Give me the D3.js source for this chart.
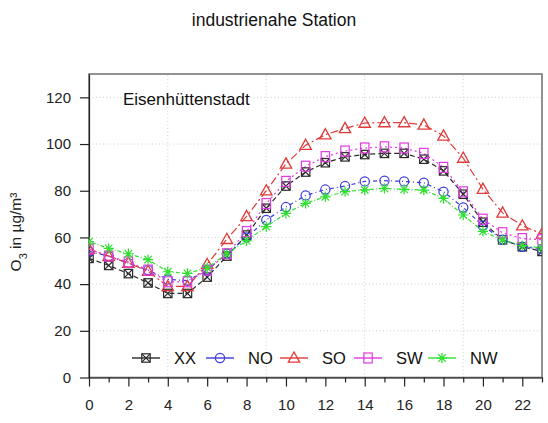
<!DOCTYPE html>
<html>
<head>
<meta charset="utf-8">
<script src="https://cdn.jsdelivr.net/npm/d3@7"></script>
<style>
  html, body { margin: 0; padding: 0; background: #fff; }
  svg { display: block; font-family: "Liberation Sans", Arial, sans-serif; }
</style>
</head>
<body>
<svg id="chart" width="548" height="423"></svg>
<script>
// Mean diurnal ozone course by wind sector, Eisenhüttenstadt
const hours = d3.range(0, 24);
const xx = [51, 48, 44.5, 40.5, 36, 36, 43, 52, 61, 72.5, 82, 88, 92, 94.5, 95.5, 96, 96, 93.5, 88.5, 78.5, 66.5, 59, 56, 54];
const no = [54, 52, 49, 46, 42, 41.5, 46, 53, 60, 67.5, 73, 78, 80.5, 82, 84, 84.3, 84, 83.4, 79.6, 72.8, 65, 59, 56, 55];
const so = [55, 52, 49, 45.5, 39, 39, 48.5, 59.2, 69, 80, 91.5, 99.5, 104, 106.7, 109, 109.2, 109.2, 108.2, 103.5, 94, 80.7, 70.5, 65, 61.5];
const sw = [55, 52, 49.5, 46, 41, 41, 46, 53, 62.5, 74.5, 84, 90.5, 94.6, 97, 98.3, 98.8, 98.3, 96, 90, 79.5, 67.8, 62, 59.5, 59];
const nw = [58.2, 55.3, 53, 50.5, 45.3, 44.6, 47, 53, 58.6, 64.6, 70.3, 74.6, 77.4, 79.6, 80.4, 81, 80.6, 80.3, 76.7, 69.6, 62.6, 58.9, 56.5, 55.5];

const seriesNames = ["XX", "NO", "SO", "SW", "NW"];
const seriesValues = [xx, no, so, sw, nw];
const seriesColors = ["#2a2a2a", "#3a3ae0", "#e03a3a", "#e23ae2", "#30e030"];
const seriesDash = ["5,3", "4,3,1,3", "8,3,2,3", "2,3", "1,2,4,2"];
const seriesSymbol = ["boxx", "circle", "triangle", "square", "star"];

const yTicks = [0, 20, 40, 60, 80, 100, 120];
const xLabelTicks = d3.range(0, 24, 2);
const xGrid = [4, 9, 14, 19];

const svg = d3.select("#chart");
const W = 548, H = 423;
const m = { left: 89, right: 6, top: 74, bottom: 45.5 };

const x = d3.scaleLinear().domain([0, 23]).range([m.left, W - m.right]);
const y = d3.scaleLinear().domain([0, 130]).range([H - m.bottom, m.top]);

// Title
svg.append("text")
  .attr("x", 274).attr("y", 26)
  .attr("text-anchor", "middle")
  .attr("font-size", 17.5)
  .attr("fill", "#111")
  .text("industrienahe Station");

// Clip region for marks
svg.append("defs").append("clipPath").attr("id", "plotclip")
  .append("rect")
  .attr("x", x(0)).attr("y", y(130))
  .attr("width", x(23) - x(0)).attr("height", y(0) - y(130));

// Grid
const grid = svg.append("g").attr("stroke", "#cfcfcf").attr("stroke-width", 1).attr("stroke-dasharray", "1,2.5");
grid.selectAll("line.h").data(yTicks.filter(d => d > 0)).join("line")
  .attr("x1", x(0)).attr("x2", x(23))
  .attr("y1", d => y(d)).attr("y2", d => y(d));
grid.selectAll("line.v").data(xGrid).join("line")
  .attr("class", "v")
  .attr("x1", d => x(d)).attr("x2", d => x(d))
  .attr("y1", y(0)).attr("y2", y(130));

// Frame
svg.append("rect")
  .attr("x", x(0)).attr("y", y(130))
  .attr("width", x(23) - x(0)).attr("height", y(0) - y(130))
  .attr("fill", "none").attr("stroke", "#777").attr("stroke-width", 1.6);

// Y axis
const yAxis = svg.append("g")
  .attr("transform", `translate(${x(0)},0)`)
  .call(d3.axisLeft(y).tickValues(yTicks).tickSize(9).tickPadding(9).tickSizeOuter(0));
yAxis.select(".domain").attr("stroke", "#222").attr("stroke-width", 1.2);
yAxis.selectAll(".tick line").attr("stroke", "#222").attr("stroke-width", 1.2);
yAxis.selectAll(".tick text").attr("font-size", 15).attr("fill", "#222")
  .attr("font-family", "Liberation Sans, Arial, sans-serif");

// X axis: long ticks with labels on even hours, short ticks on odd hours
const xAxis = svg.append("g")
  .attr("transform", `translate(0,${y(0)})`)
  .call(d3.axisBottom(x).tickValues(xLabelTicks).tickSize(9).tickPadding(13).tickSizeOuter(0));
xAxis.select(".domain").attr("stroke", "#222").attr("stroke-width", 1.2);
xAxis.selectAll(".tick line").attr("stroke", "#222").attr("stroke-width", 1.2);
xAxis.selectAll(".tick text").attr("font-size", 15).attr("fill", "#222")
  .attr("font-family", "Liberation Sans, Arial, sans-serif");
const xMinor = svg.append("g")
  .attr("transform", `translate(0,${y(0)})`)
  .call(d3.axisBottom(x).tickValues(d3.range(1, 24, 2)).tickSize(5).tickFormat("").tickSizeOuter(0));
xMinor.select(".domain").remove();
xMinor.selectAll(".tick line").attr("stroke", "#222").attr("stroke-width", 1.2);

// Y axis title
svg.append("text")
  .attr("transform", `translate(21,232) rotate(-90)`)
  .attr("text-anchor", "middle")
  .attr("font-size", 15.5)
  .attr("fill", "#222")
  .html('O<tspan baseline-shift="sub" font-size="11">3</tspan> in µg/m³');

// Station label
svg.append("text")
  .attr("x", 123).attr("y", 105)
  .attr("font-size", 17)
  .attr("fill", "#111")
  .text("Eisenhüttenstadt");

// Marker drawing
function drawSymbol(g, type, color) {
  const s = 4.2;
  if (type === "boxx") {
    g.append("rect").attr("x", -s).attr("y", -s).attr("width", 2 * s).attr("height", 2 * s)
      .attr("fill", "none").attr("stroke", color).attr("stroke-width", 1.2);
    g.append("path").attr("d", `M${-s},${-s}L${s},${s}M${s},${-s}L${-s},${s}`)
      .attr("stroke", color).attr("stroke-width", 1.2);
  } else if (type === "circle") {
    g.append("circle").attr("r", s + 0.4).attr("fill", "none").attr("stroke", color).attr("stroke-width", 1.2);
  } else if (type === "triangle") {
    const t = 6;
    g.append("path").attr("d", `M0,${-t}L${t * 0.95},${t * 0.7}L${-t * 0.95},${t * 0.7}Z`)
      .attr("fill", "none").attr("stroke", color).attr("stroke-width", 1.3);
  } else if (type === "square") {
    g.append("rect").attr("x", -s).attr("y", -s - 0.8).attr("width", 2 * s).attr("height", 2 * s + 1.6)
      .attr("fill", "none").attr("stroke", color).attr("stroke-width", 1.2);
  } else if (type === "star") {
    const r = 5.2, d = r * 0.72;
    g.append("path").attr("d", `M0,${-r}V${r}M${-r},0H${r}M${-d},${-d}L${d},${d}M${d},${-d}L${-d},${d}`)
      .attr("stroke", color).attr("stroke-width", 1.2);
  }
}

// Series lines and markers
const plot = svg.append("g").attr("clip-path", "url(#plotclip)");
const line = d3.line().x((d, i) => x(hours[i])).y(d => y(d));
seriesValues.forEach((vals, k) => {
  plot.append("path")
    .datum(vals)
    .attr("d", line)
    .attr("fill", "none")
    .attr("stroke", seriesColors[k])
    .attr("stroke-width", 1.2)
    .attr("stroke-dasharray", seriesDash[k]);
});
seriesValues.forEach((vals, k) => {
  vals.forEach((v, i) => {
    const g = plot.append("g").attr("transform", `translate(${x(hours[i])},${y(v)})`);
    drawSymbol(g, seriesSymbol[k], seriesColors[k]);
  });
});

// Legend
const legend = svg.append("g").attr("transform", `translate(132,358)`);
seriesNames.forEach((name, k) => {
  const g = legend.append("g").attr("transform", `translate(${k * 74},0)`);
  g.append("line").attr("x1", 0).attr("x2", 28).attr("y1", 0).attr("y2", 0)
    .attr("stroke", seriesColors[k]).attr("stroke-width", 1.4);
  const mk = g.append("g").attr("transform", "translate(14,0)");
  drawSymbol(mk, seriesSymbol[k], seriesColors[k]);
  g.append("text").attr("x", 42).attr("y", 6).attr("font-size", 16.5).attr("fill", "#111").text(name);
});
</script>
</body>
</html>
